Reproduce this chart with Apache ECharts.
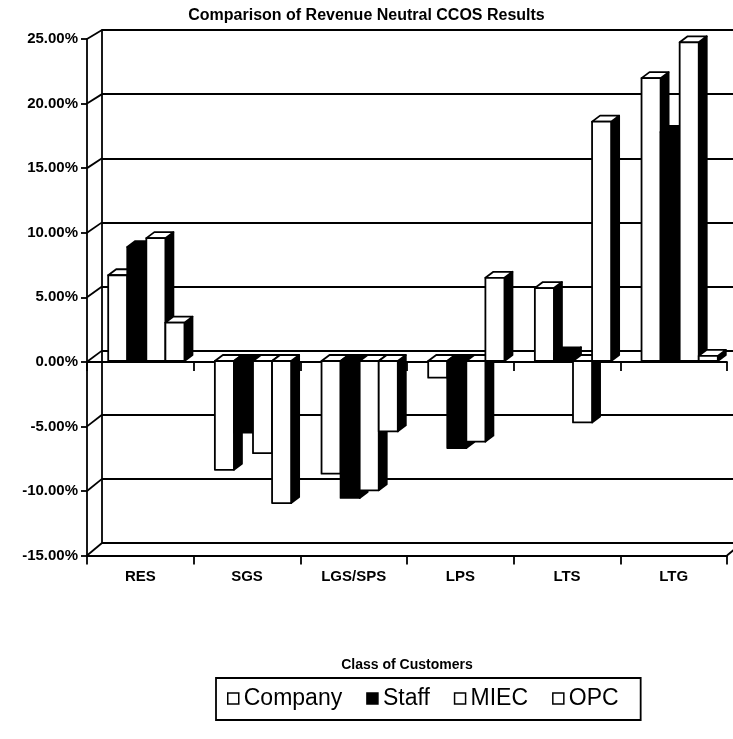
<!DOCTYPE html>
<html>
<head>
<meta charset="utf-8">
<script src="https://cdn.jsdelivr.net/npm/echarts@6/dist/echarts.min.js"></script>
<style>
  html, body { margin: 0; padding: 0; background: #ffffff; }
  #chart { width: 733px; height: 739px; }
</style>
</head>
<body>
<div id="chart"></div>
<script>
// Customer classes along the category axis
const categories = ['RES', 'SGS', 'LGS/SPS', 'LPS', 'LTS', 'LTG'];

// Revenue-neutral change by class, in percent
const company = [6.7, -8.5, -8.8, -1.3, 5.7, 22.1];
const staff   = [8.9, -5.6, -10.7, -6.8, 0.6, 17.9];
const miec    = [9.6, -7.2, -10.1, -6.3, -4.8, 24.9];
const opc     = [3.0, -11.1, -5.5, 6.5, 18.7, 0.4];

const seriesNames = ['Company', 'Staff', 'MIEC', 'OPC'];

// Value axis ticks (percent)
const yTicks = [-15, -10, -5, 0, 5, 10, 15, 20, 25];

const FONT = 'Liberation Sans, Arial, sans-serif';
const INK = '#000000';
const LW = 1.8;

// Grid layout: front plane, back wall, zero-axis plane, bar plane
const FRONT = { left: 87, width: 640, top: 39, height: 516.5 };
const BACK  = { left: 102, width: 640, top: 30, height: 513 };
const ZERO  = { left: 87, width: 640, top: 42, height: 512 };
const BARS  = { left: 93, width: 640, top: 41, height: 512 };

// Extrusion of each column (right and up)
const DEPTH_X = 8, DEPTH_Y = -6;

function bar3d(slot, dark) {
  return function (params, api) {
    const ci = api.value(0);
    const v = api.value(1);
    const band = api.size([1, 0])[0];
    const groupW = band * 0.715;
    const w = groupW / 4;
    const base = api.coord([ci, 0]);
    const tip = api.coord([ci, v]);
    const x0 = base[0] - groupW / 2 + slot * w;
    const x1 = x0 + w;
    const yT = Math.min(base[1], tip[1]);
    const yB = Math.max(base[1], tip[1]);
    const faceFill = dark ? INK : '#ffffff';
    const stroke = { stroke: INK, lineWidth: LW, lineJoin: 'round' };
    return {
      type: 'group',
      children: [
        {
          type: 'polygon',
          shape: { points: [[x1, yT], [x1 + DEPTH_X, yT + DEPTH_Y], [x1 + DEPTH_X, yB + DEPTH_Y], [x1, yB]] },
          style: Object.assign({ fill: INK }, stroke)
        },
        {
          type: 'polygon',
          shape: { points: [[x0, yT], [x0 + DEPTH_X, yT + DEPTH_Y], [x1 + DEPTH_X, yT + DEPTH_Y], [x1, yT]] },
          style: Object.assign({ fill: faceFill }, stroke)
        },
        {
          type: 'rect',
          shape: { x: x0, y: yT, width: w, height: yB - yT },
          style: Object.assign({ fill: faceFill }, stroke)
        }
      ]
    };
  };
}

const seriesValues = [company, staff, miec, opc];
const darkSeries = [false, true, false, false];

const series = seriesValues.map(function (vals, s) {
  return {
    name: seriesNames[s],
    type: 'custom',
    xAxisIndex: 3,
    yAxisIndex: 3,
    renderItem: bar3d(s, darkSeries[s]),
    itemStyle: { color: darkSeries[s] ? INK : '#ffffff', borderColor: INK, borderWidth: LW },
    encode: { x: 0, y: 1 },
    data: vals.map(function (v, i) { return [i, v]; }),
    z: 5,
    animation: false,
    silent: true
  };
});

const yBase = { type: 'value', min: -15, max: 25, interval: 5 };

const chart = echarts.init(document.getElementById('chart'), null, { renderer: 'canvas' });

chart.setOption({
  backgroundColor: '#ffffff',
  animation: false,
  title: {
    text: 'Comparison of Revenue Neutral CCOS Results',
    left: 'center',
    top: 3,
    textStyle: { fontFamily: FONT, fontSize: 16, fontWeight: 'bold', color: INK }
  },
  legend: {
    data: seriesNames.map(function (n, s) {
      return {
        name: n,
        icon: 'rect',
        itemStyle: { color: darkSeries[s] ? INK : '#ffffff', borderColor: INK, borderWidth: 1.5 }
      };
    }),
    left: 216,
    top: 678,
    orient: 'horizontal',
    itemWidth: 11,
    itemHeight: 11,
    itemGap: 24,
    padding: [9, 22, 10, 11],
    borderColor: INK,
    borderWidth: LW,
    selectedMode: false,
    textStyle: { fontFamily: FONT, fontSize: 23, color: INK }
  },
  grid: [
    Object.assign({}, FRONT),
    Object.assign({}, BACK),
    Object.assign({}, ZERO),
    Object.assign({}, BARS)
  ],
  xAxis: [
    {
      gridIndex: 0, type: 'category', data: categories, boundaryGap: true,
      axisLine: { show: true, onZero: false, lineStyle: { color: INK, width: LW } },
      axisTick: { show: true, length: 9, lineStyle: { color: INK, width: LW } },
      axisLabel: { margin: 14, fontFamily: FONT, fontSize: 15, fontWeight: 'bold', color: INK },
      splitLine: { show: false },
      name: 'Class of Customers',
      nameLocation: 'middle',
      nameGap: 103,
      nameTextStyle: { fontFamily: FONT, fontSize: 14, fontWeight: 'bold', color: INK }
    },
    {
      gridIndex: 1, type: 'category', data: categories, show: false
    },
    {
      gridIndex: 2, type: 'category', data: categories, boundaryGap: true,
      axisLine: { show: true, onZero: true, lineStyle: { color: INK, width: LW } },
      axisTick: { show: true, length: 9, lineStyle: { color: INK, width: LW } },
      axisLabel: { show: false },
      splitLine: { show: false }
    },
    {
      gridIndex: 3, type: 'category', data: categories, show: false
    }
  ],
  yAxis: [
    Object.assign({}, yBase, {
      gridIndex: 0,
      axisLine: { show: true, lineStyle: { color: INK, width: LW } },
      axisTick: { show: true, length: 6, lineStyle: { color: INK, width: LW } },
      axisLabel: {
        margin: 9, fontFamily: FONT, fontSize: 15, fontWeight: 'bold', color: INK,
        formatter: function (v) { return v.toFixed(2) + '%'; }
      },
      splitLine: { show: false }
    }),
    Object.assign({}, yBase, {
      gridIndex: 1,
      axisLine: { show: true, lineStyle: { color: INK, width: LW } },
      axisTick: { show: false },
      axisLabel: { show: false },
      splitLine: { show: true, lineStyle: { color: INK, width: LW } }
    }),
    Object.assign({}, yBase, { gridIndex: 2, show: false }),
    Object.assign({}, yBase, { gridIndex: 3, show: false })
  ],
  series: series
});

// Left wall edges and floor corner: join each front tick to the matching back-wall line
(function drawWalls() {
  const lines = [];
  const frontX = FRONT.left, backX = BACK.left;
  yTicks.forEach(function (v) {
    const yf = chart.convertToPixel({ yAxisIndex: 0 }, v);
    const yb = chart.convertToPixel({ yAxisIndex: 1 }, v);
    lines.push([frontX, yf, backX, yb]);
  });
  const lo = yTicks[0];
  lines.push([
    FRONT.left + FRONT.width, chart.convertToPixel({ yAxisIndex: 0 }, lo),
    BACK.left + BACK.width, chart.convertToPixel({ yAxisIndex: 1 }, lo)
  ]);
  chart.setOption({
    graphic: lines.map(function (l) {
      return {
        type: 'line',
        z: 1,
        silent: true,
        shape: { x1: l[0], y1: l[1], x2: l[2], y2: l[3] },
        style: { stroke: INK, lineWidth: LW }
      };
    })
  });
})();
</script>
</body>
</html>
